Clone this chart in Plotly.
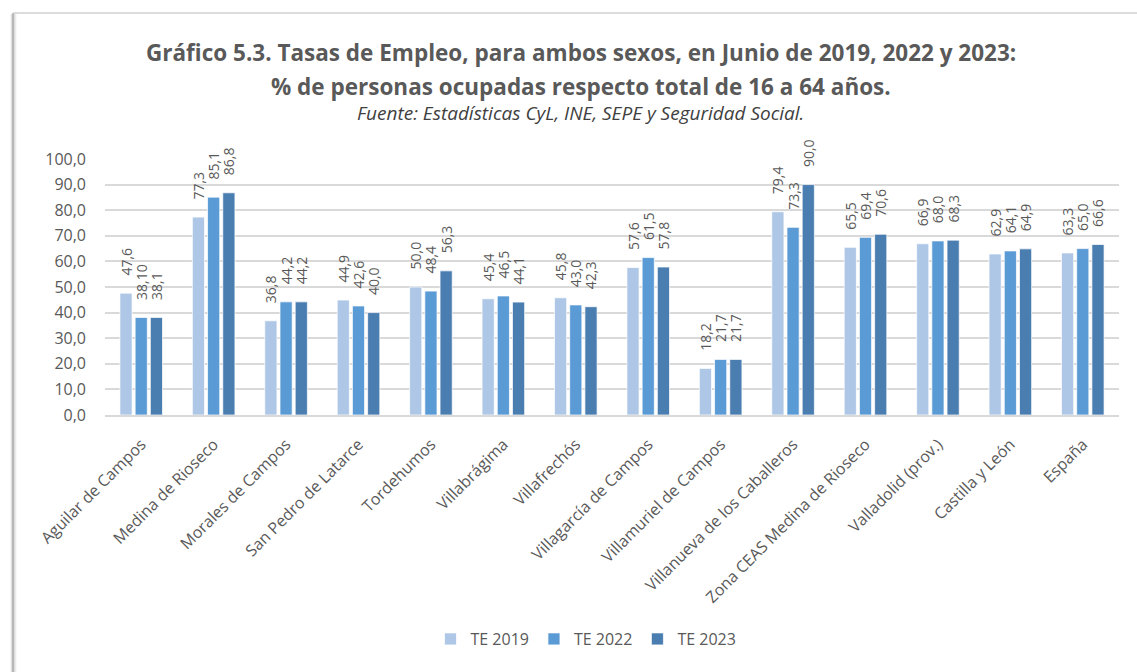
import plotly.graph_objects as go

# Categories and employment rates (% of employed persons aged 16-64)
categories = [
    "Aguilar de Campos", "Medina de Rioseco", "Morales de Campos",
    "San Pedro de Latarce", "Tordehumos", "Villabrágima", "Villafrechós",
    "Villagarcía de Campos", "Villamuriel de Campos",
    "Villanueva de los Caballeros", "Zona CEAS Medina de Rioseco",
    "Valladolid (prov.)", "Castilla y León", "España",
]
te_2019 = [47.6, 77.3, 36.8, 44.9, 50.0, 45.4, 45.8, 57.6, 18.2, 79.4, 65.5, 66.9, 62.9, 63.3]
te_2022 = [38.10, 85.1, 44.2, 42.6, 48.4, 46.5, 43.0, 61.5, 21.7, 73.3, 69.4, 68.0, 64.1, 65.0]
te_2023 = [38.1, 86.8, 44.2, 40.0, 56.3, 44.1, 42.3, 57.8, 21.7, 90.0, 70.6, 68.3, 64.9, 66.6]
series_names = ["TE 2019", "TE 2022", "TE 2023"]
series_colors = ["#AEC7E6", "#5B9BD5", "#4A7DB0"]

# Labels use a decimal comma; the 2022 value for Aguilar is published as "38,10"
label_overrides = {(1, 0): "38,10"}

W, H = 1137, 672
L, R, T, B = 105, 18, 159, 257
PW, PH = W - L - R, H - T - B


def px_x(p):
    return (p - L) / PW


def px_y(p):
    return (H - B - p) / PH


# vertical labels sit a little above the bar tops (non-breaking spaces as lead-in)
LEAD = "\u00a0" * 4


def fmt(v):
    return f"{v:.1f}".replace(".", ",")


GRAY = "#595959"
FONT = "Open Sans"

fig = go.Figure()
for si, (name, vals, col) in enumerate(zip(series_names, [te_2019, te_2022, te_2023], series_colors)):
    labels = [LEAD + label_overrides.get((si, i), fmt(v)) for i, v in enumerate(vals)]
    fig.add_trace(go.Bar(
        x=categories, y=vals, name=name,
        marker=dict(color=col, line=dict(color="rgba(255,255,255,0.9)", width=0.8)),
        text=labels, textposition="outside", textangle=-90,
        textfont=dict(family=FONT, size=14, color=GRAY),
        constraintext="none", cliponaxis=False,
    ))

fig.update_layout(
    width=W, height=H,
    margin=dict(l=L, r=R, t=T, b=B, pad=0),
    paper_bgcolor="white", plot_bgcolor="white",
    barmode="group", bargap=0.37, bargroupgap=0.2,
    separators=",.",
    font=dict(family=FONT, color=GRAY),
    showlegend=True,
    legend=dict(orientation="h", x=px_x(586), y=px_y(639), xanchor="center", yanchor="middle",
                font=dict(family=FONT, size=16, color=GRAY), itemwidth=30,
                traceorder="normal"),
    yaxis=dict(range=[0, 100], dtick=10, tickformat=".1f", showgrid=True,
               gridcolor="#D9D9D9", gridwidth=1.5, zeroline=False, showline=False,
               ticks="", ticklabelstandoff=18,
               tickfont=dict(family=FONT, size=16, color=GRAY)),
    xaxis=dict(tickangle=-45, showline=True, linecolor="#D9D9D9", linewidth=1.5,
               ticks="", ticklabelstandoff=12,
               tickfont=dict(family=FONT, size=16, color=GRAY)),
)

# Title block
fig.add_annotation(text="<b>Gráfico 5.3. Tasas de Empleo, para ambos sexos, en Junio de 2019, 2022 y 2023:</b>",
                   x=px_x(581), y=px_y(52), xref="paper", yref="paper", showarrow=False,
                   xanchor="center", yanchor="middle",
                   font=dict(family=FONT, size=22.5, color=GRAY))
fig.add_annotation(text="<b>% de personas ocupadas respecto total de 16 a 64 años.</b>",
                   x=px_x(581), y=px_y(86), xref="paper", yref="paper", showarrow=False,
                   xanchor="center", yanchor="middle",
                   font=dict(family=FONT, size=22.5, color=GRAY))
fig.add_annotation(text="<i>Fuente: Estadísticas CyL, INE, SEPE y Seguridad Social.</i>",
                   x=px_x(580), y=px_y(113), xref="paper", yref="paper", showarrow=False,
                   xanchor="center", yanchor="middle",
                   font=dict(family=FONT, size=19, color="#404040"))

# Chart frame: left edge with soft shadow, thin top edge
for off, op in [(-2, 0.15), (-1, 0.3), (1, 0.35), (2, 0.2), (3, 0.1)]:
    fig.add_shape(type="line", xref="paper", yref="paper",
                  x0=px_x(13 + off), x1=px_x(13 + off), y0=px_y(14), y1=px_y(672),
                  line=dict(color=f"rgba(120,120,120,{op})", width=1))
fig.add_shape(type="line", xref="paper", yref="paper",
              x0=px_x(13), x1=px_x(13), y0=px_y(13), y1=px_y(672),
              line=dict(color="#A6A6A6", width=1.5))
fig.add_shape(type="line", xref="paper", yref="paper",
              x0=px_x(13), x1=px_x(1137), y0=px_y(13), y1=px_y(13),
              line=dict(color="#D0D0D0", width=1.5))

fig.write_html("out.html")
